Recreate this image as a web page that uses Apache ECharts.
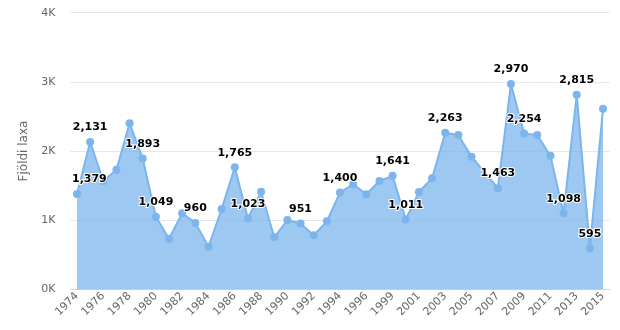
<!DOCTYPE html>
<html>
<head>
<meta charset="utf-8">
<script src="https://cdn.jsdelivr.net/npm/echarts@6/dist/echarts.min.js"></script>
<style>
  html, body { margin: 0; padding: 0; background: #ffffff; }
  #chart { width: 620px; height: 330px; }
</style>
</head>
<body>
<div id="chart"></div>
<script>
// Salmon catch per year (null = no record; the line bridges the gap)
const years = ['1974','1975','1976','1977','1978','1979','1980','1981','1982','1983',
  '1984','1985','1986','1987','1988','1989','1990','1991','1992','1993',
  '1994','1995','1996','1998','1999','2000','2001','2002','2003','2004',
  '2005','2006','2007','2008','2009','2010','2011','2012','2013','2014','2015'];
const catchCounts = [1379, 2131, 1566, 1730, 2400, 1893, 1049, 732, 1099, 960,
  615, 1161, 1765, 1023, 1412, 752, 1002, 951, 781, 983,
  1400, 1518, 1374, 1566, 1641, 1011, 1407, 1605, 2263, 2231,
  1918, null, 1463, 2970, 2254, 2231, 1932, 1098, 2815, 595, 2612];
// Years whose value is printed above the marker
const labeledYears = ['1974','1975','1979','1980','1983','1986','1987','1991','1994',
  '1999','2000','2003','2007','2008','2009','2012','2013','2014'];
const yTicks = [0, 1000, 2000, 3000, 4000];

const FONT = '"DejaVu Sans", Verdana, sans-serif';
const lineColor = '#7cb5ec';

const seriesData = catchCounts.map((v, i) => {
  const label = { show: labeledYears.includes(years[i]) };
  // keep the first label inside the plot area
  if (i === 0) { label.align = 'left'; label.offset = [-5, 0]; }
  return { value: v, label };
});

const chart = echarts.init(document.getElementById('chart'), null, { renderer: 'canvas' });
chart.setOption({
  animation: false,
  backgroundColor: '#ffffff',
  grid: { left: 70.4, right: 10.4, top: 12.7, bottom: 40.7, containLabel: false },
  xAxis: {
    type: 'category',
    data: years,
    boundaryGap: true,
    axisLine: { lineStyle: { color: '#ccd6eb', width: 1 } },
    axisTick: { alignWithLabel: true, interval: 1, length: 10, lineStyle: { color: '#ccd6eb' } },
    axisLabel: {
      interval: 1, rotate: 45, color: '#666666', fontSize: 11, fontFamily: FONT, margin: 5
    },
    splitLine: { show: false }
  },
  yAxis: {
    type: 'value',
    min: yTicks[0],
    max: yTicks[yTicks.length - 1],
    interval: 1000,
    name: 'Fjöldi laxa',
    nameLocation: 'middle',
    nameGap: 36,
    nameTextStyle: { color: '#666666', fontSize: 12, fontFamily: FONT },
    axisLine: { show: false },
    axisTick: { show: false },
    axisLabel: {
      color: '#666666', fontSize: 11, fontFamily: FONT, margin: 15,
      formatter: v => (v / 1000) + 'K'
    },
    splitLine: { lineStyle: { color: '#e6e6e6', width: 1 } }
  },
  series: [{
    type: 'line',
    data: seriesData,
    connectNulls: true,
    symbol: 'circle',
    symbolSize: 8,
    showAllSymbol: true,
    itemStyle: { color: lineColor },
    lineStyle: { color: lineColor, width: 2 },
    areaStyle: { color: lineColor, opacity: 0.75 },
    label: {
      position: 'top',
      distance: 5,
      color: '#000000',
      fontSize: 11,
      fontWeight: 'bold',
      fontFamily: FONT,
      textBorderColor: '#ffffff',
      textBorderWidth: 2,
      formatter: p => p.value.toLocaleString('en-US')
    }
  }]
});
</script>
</body>
</html>
